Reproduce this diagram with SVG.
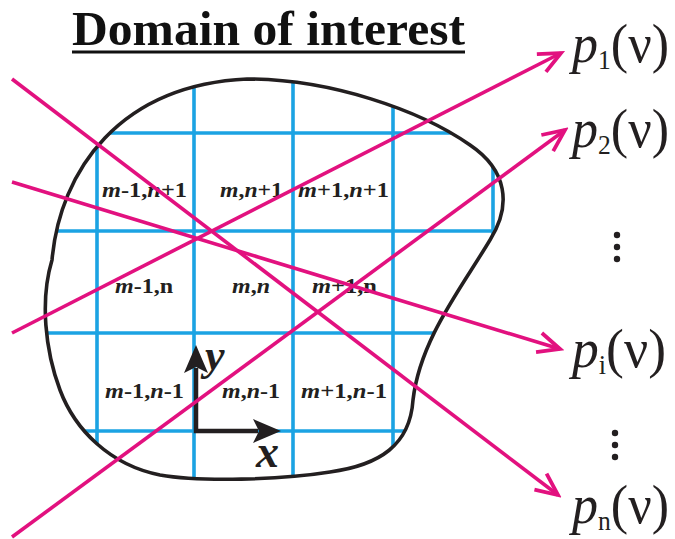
<svg xmlns="http://www.w3.org/2000/svg" width="675" height="539" viewBox="0 0 675 539">
<style>
.grid{stroke:#1ba3e3;stroke-width:3.6;fill:none}
.ray{stroke:#e2117f;stroke-width:3.6;fill:none;marker-end:url(#open)}
.cell{font-family:"Liberation Serif","Times New Roman",serif;font-weight:bold;font-size:22px;fill:#231f20}
.cell .i{font-style:italic}
.lab{font-family:"Liberation Serif","Times New Roman",serif;font-size:55px;fill:#231f20}
.sub{font-size:27px}
.axis{stroke:#231f20;stroke-width:4.5;fill:none}
</style>
<defs>
<path id="blobShape" d="M 247 79 C 330 79, 420 110, 470 145 C 507 170, 512 205, 490 240 C 460 290, 420 340, 413 400 C 410 445, 380 465, 330 472 C 280 480, 200 482, 160 475 C 110 465, 75 430, 60 390 C 45 350, 40 300, 52 260 C 60 170, 120 85, 247 79 Z"/>
<clipPath id="blobClip"><use href="#blobShape"/></clipPath>
<marker id="open" viewBox="-26 -13 30 26" refX="0" refY="0" markerWidth="30" markerHeight="26" markerUnits="userSpaceOnUse" orient="auto">
<path d="M -22 -10 L 0 0 L -22 10" fill="none" stroke="#e2117f" stroke-width="3.8"/>
</marker>
</defs>
<rect width="675" height="539" fill="#ffffff"/>
<g id="title">
<text x="72" y="45" font-family="'Liberation Serif','Times New Roman',serif" font-weight="bold" font-size="49" fill="#111" textLength="393" lengthAdjust="spacingAndGlyphs">Domain of interest</text>
<line x1="72" y1="52" x2="465" y2="52" stroke="#111" stroke-width="3"/>
</g>
<g id="grid" clip-path="url(#blobClip)">
<line class="grid" x1="97" y1="40" x2="97" y2="500"/>
<line class="grid" x1="194" y1="40" x2="194" y2="500"/>
<line class="grid" x1="293" y1="40" x2="293" y2="500"/>
<line class="grid" x1="393" y1="40" x2="393" y2="500"/>
<line class="grid" x1="493" y1="40" x2="493" y2="500"/>
<line class="grid" x1="20" y1="133" x2="540" y2="133"/>
<line class="grid" x1="20" y1="231" x2="540" y2="231"/>
<line class="grid" x1="20" y1="333" x2="540" y2="333"/>
<line class="grid" x1="20" y1="431" x2="540" y2="431"/>
</g>
<g id="domain">
<use href="#blobShape" fill="none" stroke="#231f20" stroke-width="3.6"/>
</g>
<g id="cells" class="cell">
<text x="102" y="197" textLength="85" lengthAdjust="spacingAndGlyphs"><tspan class="i">m</tspan>-1,<tspan class="i">n</tspan>+1</text>
<text x="220" y="197" textLength="63" lengthAdjust="spacingAndGlyphs"><tspan class="i">m</tspan>,<tspan class="i">n</tspan>+1</text>
<text x="298" y="197" textLength="91" lengthAdjust="spacingAndGlyphs"><tspan class="i">m</tspan>+1,<tspan class="i">n</tspan>+1</text>
<text x="115" y="293" textLength="58" lengthAdjust="spacingAndGlyphs"><tspan class="i">m</tspan>-1,n</text>
<text x="232" y="293" textLength="38" lengthAdjust="spacingAndGlyphs"><tspan class="i">m</tspan>,<tspan class="i">n</tspan></text>
<text x="312" y="293" textLength="65" lengthAdjust="spacingAndGlyphs"><tspan class="i">m</tspan>+1,n</text>
<text x="105" y="398" textLength="79" lengthAdjust="spacingAndGlyphs"><tspan class="i">m</tspan>-1,<tspan class="i">n</tspan>-1</text>
<text x="222" y="398" textLength="58" lengthAdjust="spacingAndGlyphs"><tspan class="i">m</tspan>,<tspan class="i">n</tspan>-1</text>
<text x="301" y="398" textLength="86" lengthAdjust="spacingAndGlyphs"><tspan class="i">m</tspan>+1,<tspan class="i">n</tspan>-1</text>
</g>
<g id="axes">
<polyline class="axis" points="196,368 196,431 258,431"/>
<path d="M 196 345 L 208 373 L 196 367 L 184 373 Z" fill="#231f20"/>
<path d="M 281 431 L 253 443 L 259 431 L 253 419 Z" fill="#231f20"/>
<text x="205" y="370" font-family="'Liberation Serif','Times New Roman',serif" font-weight="bold" font-style="italic" font-size="44" fill="#231f20">y</text>
<text x="256" y="467" font-family="'Liberation Serif','Times New Roman',serif" font-weight="bold" font-style="italic" font-size="46" fill="#231f20">x</text>
</g>
<g id="connectors">
<line class="ray" x1="12" y1="79" x2="558" y2="495"/>
<line class="ray" x1="12" y1="182" x2="560" y2="349"/>
<line class="ray" x1="12" y1="333" x2="561" y2="53"/>
<line class="ray" x1="12" y1="537" x2="565" y2="130"/>
</g>
<g id="p1" class="lab"><text x="572" y="62" textLength="97" lengthAdjust="spacingAndGlyphs"><tspan font-style="italic">p</tspan><tspan class="sub" dy="7">1</tspan><tspan dy="-7">(ν)</tspan></text></g>
<g id="p2" class="lab"><text x="572" y="147" textLength="97" lengthAdjust="spacingAndGlyphs"><tspan font-style="italic">p</tspan><tspan class="sub" dy="7">2</tspan><tspan dy="-7">(ν)</tspan></text></g>
<g id="pi" class="lab"><text x="572" y="367" textLength="94" lengthAdjust="spacingAndGlyphs"><tspan font-style="italic">p</tspan><tspan class="sub" dy="7">i</tspan><tspan dy="-7">(ν)</tspan></text></g>
<g id="pn" class="lab"><text x="572" y="523" textLength="97" lengthAdjust="spacingAndGlyphs"><tspan font-style="italic">p</tspan><tspan class="sub" dy="7">n</tspan><tspan dy="-7">(ν)</tspan></text></g>
<g id="dots" fill="#231f20">
<circle cx="617" cy="235" r="3.2"/><circle cx="617" cy="247" r="3.2"/><circle cx="617" cy="259" r="3.2"/>
<circle cx="615" cy="433" r="3.2"/><circle cx="615" cy="445" r="3.2"/><circle cx="615" cy="457" r="3.2"/>
</g>
</svg>
